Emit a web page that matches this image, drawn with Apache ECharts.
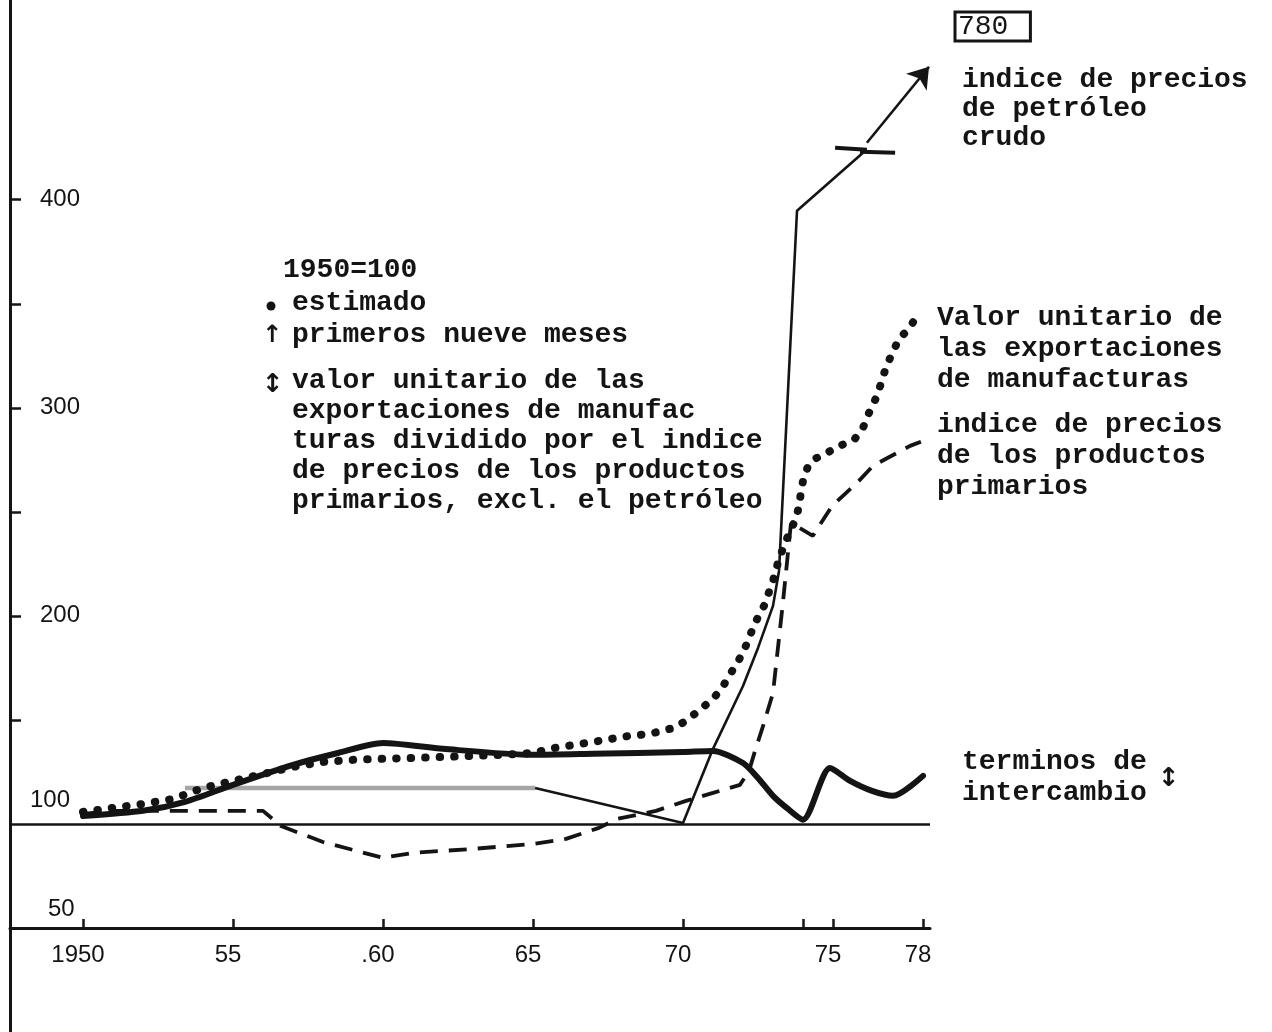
<!DOCTYPE html>
<html>
<head>
<meta charset="utf-8">
<script src="https://cdn.jsdelivr.net/npm/echarts@6/dist/echarts.min.js"></script>
<style>
html,body{margin:0;padding:0;background:#fff;}
#c{width:1272px;height:1032px;}
</style>
</head>
<body>
<div id="c"></div>
<script>
// ---------- data (1950 = 100) ----------
// términos de intercambio (thick solid)
const terminYears  = [1950, 1952, 1953.4, 1955, 1957, 1958.5, 1960, 1962, 1965, 1967, 1970, 1971, 1972, 1972.5, 1973, 1973.5, 1974, 1974.9, 1975.57, 1976.3, 1977, 1978];
const terminValues = [103.8, 106.3, 110.6, 118.8, 128.4, 134.1, 138.9, 136.1, 133.2, 133.7, 134.6, 135.1, 129.3, 122.1, 113.5, 107.2, 102, 126.9, 120.7, 115.9, 113.5, 123.1];

// valor unitario de las exportaciones de manufacturas (dotted)
const manufYears  = [1950, 1951, 1952, 1953, 1954, 1955, 1956, 1957, 1958, 1959, 1960, 1961, 1962, 1963, 1964, 1965, 1965.7, 1966.6, 1967.2, 1968.2, 1968.9, 1969.7, 1970.1, 1970.6, 1971, 1971.3, 1971.6, 1972, 1972.4, 1972.7, 1973, 1973.2, 1973.5, 1973.7, 1973.83, 1974, 1974.17, 1974.4, 1974.8, 1975.23, 1975.73, 1976, 1976.23, 1976.47, 1976.73, 1976.97, 1977.23, 1977.47, 1977.7];
const manufValues = [105.8, 107.7, 109.6, 112.0, 117.3, 120.7, 124.0, 127.4, 129.8, 130.8, 131.3, 131.7, 132.2, 132.7, 133.2, 134.1, 136.5, 138.5, 139.9, 142.3, 143.3, 146.2, 149.5, 155.3, 160.1, 165.4, 172.6, 182.2, 196.6, 204.8, 216.8, 227.4, 238.5, 244.7, 250.5, 264.9, 272.1, 275.5, 278.4, 281.7, 285.1, 290.4, 298.6, 305.8, 317.8, 326.4, 333.7, 337.0, 341.8];

// índice de precios de los productos primarios (dashed)
const primYears  = [1950, 1951, 1956, 1956.6, 1958, 1960, 1961, 1963, 1965, 1966.1, 1967.2, 1967.8, 1969.1, 1970.1, 1971, 1971.9, 1972.2, 1972.4, 1972.67, 1973, 1973.33, 1973.6, 1974.33, 1974.97, 1975.8, 1976.33, 1976.83, 1977.57, 1977.93];
const primValues = [104.8, 106.3, 106.3, 99.0, 91.3, 83.7, 86.1, 88.0, 90.4, 92.8, 98.1, 102.4, 106.3, 111.1, 114.9, 118.8, 125.5, 135.1, 147.1, 163.0, 206.3, 244.7, 238.5, 252.9, 263.9, 272.1, 276.0, 281.7, 283.7];

// índice de precios de petróleo crudo (thin solid; grey early stretch)
const oilGreyYears  = [1953.4, 1965.07];
const oilGreyValues = [117.3, 117.3];
const oilYears  = [1965.07, 1970, 1971, 1972, 1972.5, 1973, 1973.2, 1973.8, 1976.0];
const oilValues = [117.3, 100.5, 136.1, 166.3, 184.6, 204.8, 221.6, 394.7, 422.6];
const oilArrowYears  = [1976.13, 1978.2];   // continuation above the break, ends at 780
const oilArrowValues = [427.4, 463.9];
const breakYears  = [[1975.07, 1976.13], [1975.9, 1977.07]];  // scale-break strokes
const breakValues = [[425.0, 424.0], [423.1, 422.6]];
const oilFinalLabel = '780';

// axes
const xLabelYears = [1950, 1955, 1960, 1965, 1970, 1975, 1978];
const xLabelTexts = ['1950', '55', '.60', '65', '70', '75', '78'];
const xTickYears  = [1950, 1955, 1960, 1965, 1970, 1974, 1975, 1978];
const yLabelValues = [50, 100, 200, 300, 400];
const yTickValues  = [150, 200, 250, 300, 350, 400];
const BASE_VALUE = 100;

// ---------- chart ----------
const INK = '#141414';
const MONO = "'Liberation Mono', 'DejaVu Sans Mono', monospace";
const SANS = "'Liberation Sans', 'DejaVu Sans', sans-serif";
const pairs = (xs, ys) => xs.map((x, i) => [x, ys[i]]);

const chart = echarts.init(document.getElementById('c'), null, {renderer: 'canvas'});

const monoFont = 'bold 28px ' + MONO;
function txt(x, yCenter, text, lh, extra) {
  return {
    type: 'text', x: x, y: yCenter - lh / 2, silent: true,
    style: Object.assign({text: text, font: monoFont, fill: INK, lineHeight: lh, verticalAlign: 'top', align: 'left'}, extra || {})
  };
}

const breakLines = breakYears.map((ys, i) => [
  {coord: [ys[0], breakValues[i][0]], symbol: 'none'},
  {coord: [ys[1], breakValues[i][1]], symbol: 'none', lineStyle: {width: 4, color: INK}}
]);
const arrowLine = [
  {coord: [oilArrowYears[0], oilArrowValues[0]], symbol: 'none'},
  {coord: [oilArrowYears[1], oilArrowValues[1]], symbol: 'arrow', symbolSize: 20}
];

const option = {
  animation: false,
  backgroundColor: '#ffffff',
  grid: {left: 10, right: 342, top: 0, bottom: 0, containLabel: false, outerBoundsMode: 'none'},
  xAxis: {
    type: 'value', min: 1947.567, max: 1978.233, offset: -104,
    axisLine: {onZero: false, lineStyle: {color: INK, width: 3}},
    axisTick: {show: true, inside: true, length: 9, customValues: xTickYears, lineStyle: {color: INK, width: 2.5}},
    axisLabel: {
      customValues: xLabelYears, margin: 15, fontFamily: SANS, fontSize: 24, color: INK, padding: [0, 10, 0, 0],
      formatter: v => { const i = xLabelYears.indexOf(v); return i >= 0 ? xLabelTexts[i] : ''; }
    },
    splitLine: {show: false}
  },
  yAxis: {
    type: 'value', min: 0, max: 496,
    axisLine: {show: true, onZero: false, lineStyle: {color: INK, width: 3}},
    axisTick: {show: true, inside: true, length: 11, customValues: yTickValues, lineStyle: {color: INK, width: 2.5}},
    axisLabel: {
      inside: true, margin: 20, customValues: yLabelValues,
      formatter: v => v === 100 ? '{b|100}' : (v === 50 ? '{c|50}' : '{a|' + v + '}'),
      rich: {
        a: {fontFamily: SANS, fontSize: 24, color: INK, padding: [0, 0, 0, 10]},
        b: {fontFamily: SANS, fontSize: 24, color: INK, padding: [0, 0, 48, 0]},
        c: {fontFamily: SANS, fontSize: 24, color: INK, padding: [0, 0, 38, 18]}
      }
    },
    splitLine: {show: false}
  },
  series: [
    {
      name: 'indice de precios de petróleo crudo (tramo gris)', type: 'line', data: pairs(oilGreyYears, oilGreyValues),
      symbol: 'none', clip: false, lineStyle: {color: '#a6a6a6', width: 4.5}, z: 2
    },
    {
      name: 'indice de precios de petróleo crudo', type: 'line', data: pairs(oilYears, oilValues),
      symbol: 'none', clip: false, lineStyle: {color: INK, width: 2.6}, z: 3,
      markLine: {
        silent: true, symbol: 'none', label: {show: false},
        lineStyle: {color: INK, width: 2.6, type: 'solid'},
        data: [arrowLine].concat(breakLines)
      }
    },
    {
      name: 'indice de precios de los productos primarios', type: 'line', data: pairs(primYears, primValues),
      symbol: 'none', clip: false, lineStyle: {color: INK, width: 3.8, type: [18, 11]}, z: 4
    },
    {
      name: 'Valor unitario de las exportaciones de manufacturas', type: 'line', data: pairs(manufYears, manufValues),
      symbol: 'none', clip: false, lineStyle: {color: INK, width: 8, type: [0.5, 14], cap: 'round'}, z: 5
    },
    {
      name: 'terminos de intercambio', type: 'line', data: pairs(terminYears, terminValues),
      symbol: 'none', clip: false, smooth: 0.25, lineStyle: {color: INK, width: 6, cap: 'round', join: 'round'}, z: 6,
      markLine: {
        silent: true, symbol: 'none', label: {show: false},
        lineStyle: {color: INK, width: 2.6, type: 'solid'},
        data: [{yAxis: BASE_VALUE}]
      }
    }
  ],
  graphic: [
    txt(283, 270, '1950=100', 30),
    {type: 'circle', silent: true, shape: {cx: 271, cy: 306, r: 4.5}, style: {fill: INK}},
    txt(292, 303, 'estimado', 30),
    txt(262, 336, '↑', 30, {font: 'bold 24px DejaVu Sans'}),
    txt(292, 335, 'primeros nueve meses', 30),
    txt(262, 385, '↕', 30, {font: 'bold 26px DejaVu Sans'}),
    txt(292, 381, 'valor unitario de las\nexportaciones de manufac\nturas dividido por el indice\nde precios de los productos\nprimarios, excl. el petróleo', 30),
    {type: 'text', x: 955, y: 12, silent: true,
      style: {text: oilFinalLabel, font: '28px ' + MONO, fill: INK, verticalAlign: 'top', align: 'left',
        borderColor: INK, borderWidth: 3, padding: [1, 22, 0, 3]}},
    txt(962, 80, 'indice de precios\nde petróleo\ncrudo', 29),
    txt(937, 318, 'Valor unitario de\nlas exportaciones\nde manufacturas', 31),
    txt(937, 425, 'indice de precios\nde los productos\nprimarios', 31),
    txt(962, 762, 'terminos de\nintercambio', 31),
    txt(1158, 779, '↕', 30, {font: 'bold 26px DejaVu Sans'})
  ]
};
chart.setOption(option);
</script>
</body>
</html>
